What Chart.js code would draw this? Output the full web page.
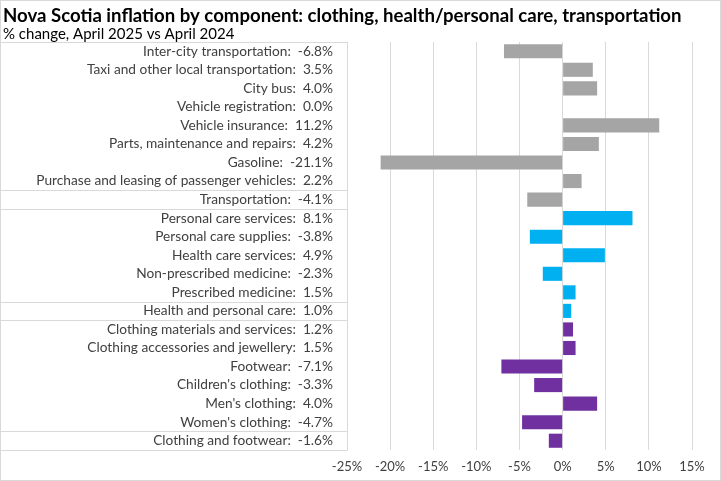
<!DOCTYPE html>
<html lang="en">
<head>
  <meta charset="UTF-8">
  <title>Nova Scotia inflation by component</title>
  <script src="https://cdn.jsdelivr.net/npm/chart.js"></script>
  <style>
    html, body { margin: 0; padding: 0; background: #fff; }
    #wrap { width: 721px; height: 481px; position: relative; }
  </style>
</head>
<body>
  <div id="wrap"><canvas id="inflationChart"></canvas></div>

  <script>
    // categories, top to bottom as in the picture
    const categories = [
      "Inter-city transportation",
      "Taxi and other local transportation",
      "City bus",
      "Vehicle registration",
      "Vehicle insurance",
      "Parts, maintenance and repairs",
      "Gasoline",
      "Purchase and leasing of passenger vehicles",
      "Transportation",
      "Personal care services",
      "Personal care supplies",
      "Health care services",
      "Non-prescribed medicine",
      "Prescribed medicine",
      "Health and personal care",
      "Clothing materials and services",
      "Clothing accessories and jewellery",
      "Footwear",
      "Children's clothing",
      "Men's clothing",
      "Women's clothing",
      "Clothing and footwear"
    ];

    // % change, April 2025 vs April 2024
    const changes = [
      -6.8, 3.5, 4.0, 0.0, 11.2, 4.2, -21.1, 2.2, -4.1,
      8.1, -3.8, 4.9, -2.3, 1.5, 1.0,
      1.2, 1.5, -7.1, -3.3, 4.0, -4.7, -1.6
    ];

    const groups = [
      "transport", "transport", "transport", "transport", "transport", "transport", "transport", "transport", "transport",
      "health", "health", "health", "health", "health", "health",
      "clothing", "clothing", "clothing", "clothing", "clothing", "clothing", "clothing"
    ];

    const xTicks = [-25, -20, -15, -10, -5, 0, 5, 10, 15];

    const groupColors = { transport: "#A5A5A5", health: "#00B0F0", clothing: "#7030A0" };

    // rows after which a separator line is drawn in the label area
    const separatorRows = [0, 8, 9, 14, 15, 21, 22];

    const labels = categories.map((c, i) => c + ":  " + changes[i].toFixed(1) + "%");

    // frame around the category labels + outer chart border
    const labelFrame = {
      id: "labelFrame",
      afterDraw(chart) {
        const ctx = chart.ctx;
        const y = chart.scales.y;
        const left = 0.5;
        const right = Math.round(chart.chartArea.left) + 0.5;
        const step = (y.getPixelForValue(1) - y.getPixelForValue(0));
        ctx.save();
        ctx.strokeStyle = "#d9d9d9";
        ctx.lineWidth = 1;
        separatorRows.forEach(r => {
          const py = Math.round(y.getPixelForValue(0) - step / 2 + r * step) + 0.5;
          ctx.beginPath();
          ctx.moveTo(left, py);
          ctx.lineTo(right, py);
          ctx.stroke();
        });
        ctx.beginPath();
        ctx.moveTo(right, y.top);
        ctx.lineTo(right, y.bottom);
        ctx.stroke();
        ctx.strokeRect(0.5, 0.5, chart.width - 1, chart.height - 1);
        ctx.restore();
      }
    };

    const ctx = document.getElementById("inflationChart").getContext("2d");
    new Chart(ctx, {
      type: "bar",
      data: {
        labels: labels,
        datasets: [{
          data: changes,
          backgroundColor: groups.map(g => groupColors[g]),
          barPercentage: 0.76,
          categoryPercentage: 1.0
        }]
      },
      options: {
        indexAxis: "y",
        responsive: true,
        maintainAspectRatio: false,
        animation: false,
        layout: { padding: { left: 3, right: 29, top: 0, bottom: 0 } },
        plugins: {
          legend: { display: false },
          tooltip: { enabled: false },
          title: {
            display: true,
            text: "Nova Scotia inflation by component: clothing, health/personal care, transportation",
            align: "start",
            color: "#000",
            font: { family: "Lato", size: 18.6, weight: "bold", lineHeight: 1.1 },
            padding: { top: 6, bottom: 0 }
          },
          subtitle: {
            display: true,
            text: "% change, April 2025 vs April 2024",
            align: "start",
            color: "#000",
            font: { family: "Lato", size: 15, lineHeight: 1.0 },
            padding: { top: 0, bottom: 0.5 }
          }
        },
        scales: {
          x: {
            type: "linear",
            min: -25,
            max: 15,
            afterBuildTicks: axis => { axis.ticks = xTicks.map(v => ({ value: v })); },
            afterFit: axis => { axis.height = 31; },
            grid: { color: "#d9d9d9", drawTicks: false },
            border: { display: false },
            ticks: {
              color: "#404040",
              padding: 9,
              font: { family: "Lato", size: 13 },
              callback: v => v + "%"
            }
          },
          y: {
            grid: { display: false, drawTicks: false },
            border: { display: false },
            afterFit: axis => { axis.width = 344; },
            ticks: {
              color: "#404040",
              padding: 14,
              autoSkip: false,
              font: { family: "Lato", size: 13.7 }
            }
          }
        }
      },
      plugins: [labelFrame]
    });
  </script>
</body>
</html>
